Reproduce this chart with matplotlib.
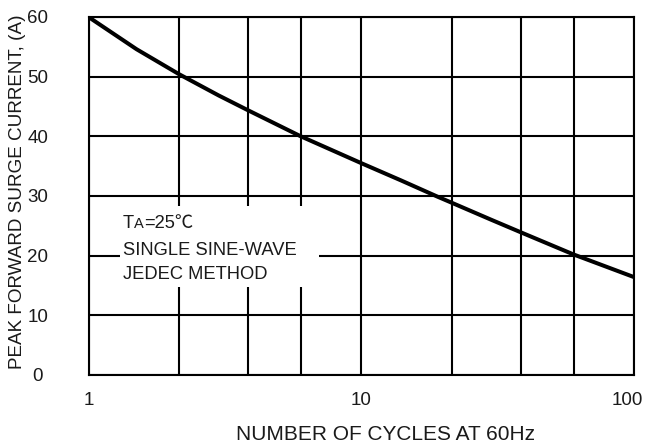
import matplotlib
matplotlib.use('Agg')
import matplotlib.pyplot as plt
from matplotlib.patches import Rectangle
from matplotlib.offsetbox import TextArea, HPacker, AnnotationBbox
from matplotlib.transforms import ScaledTranslation
from matplotlib.ticker import NullFormatter

plt.rcParams['font.family'] = ['Liberation Sans', 'Noto Sans CJK SC', 'DejaVu Sans']

# data
cycles = [1, 1.5, 2.15, 3.0, 3.85, 6, 10, 14, 19, 21.5, 30, 38.5, 60, 100]
current = [60, 54.6, 50.4, 46.85, 44.35, 40.0, 35.5, 32.6, 29.9, 28.85, 26.0, 23.9, 20.2, 16.4]

x_major = [1, 10, 100]
x_grid = [2.15, 3.85, 6, 21.5, 38.5, 60]
y_ticks = [0, 10, 20, 30, 40, 50, 60]

txt = '#1a1a1a'

fig = plt.figure(figsize=(6.46, 4.46), dpi=100)
ax = fig.add_axes([0.137, 0.1592, 0.8446, 0.8027])

ax.set_xscale('log')
ax.set_xlim(1, 100)
ax.set_ylim(0, 60)
ax.set_xticks(x_major)
ax.set_xticklabels([str(v) for v in x_major])
ax.set_xticks(x_grid, minor=True)
ax.xaxis.set_minor_formatter(NullFormatter())
ax.set_yticks(y_ticks)

ax.grid(True, which='both', color='black', linewidth=1.5)
for s in ax.spines.values():
    s.set_linewidth(1.5)
    s.set_color('black')

ax.tick_params(which='both', length=0)
ax.tick_params(axis='x', pad=12.2, labelsize=13.5, labelcolor=txt)
ax.tick_params(axis='y', pad=36.5, labelsize=13.5, labelcolor=txt)
for lab in ax.get_yticklabels():
    lab.set_ha('center')
last = ax.get_xticklabels()[-1]
last.set_transform(last.get_transform() + ScaledTranslation(-0.065, 0, fig.dpi_scale_trans))

ax.plot(cycles, current, color='black', linewidth=2.9, zorder=4,
        solid_capstyle='butt', solid_joinstyle='round')

# white box behind the note
ax.add_patch(Rectangle((0.0577, 0.246), 0.365, 0.226, transform=ax.transAxes,
                       facecolor='white', edgecolor='none', zorder=3))

fs = 13.2
t1 = TextArea('T', textprops=dict(fontsize=fs, color=txt))
t2 = TextArea('A', textprops=dict(fontsize=10.5, color=txt))
t3 = TextArea('=25℃', textprops=dict(fontsize=fs, color=txt))
box = HPacker(children=[t1, t2, t3], align='baseline', pad=0, sep=0)
ab = AnnotationBbox(box, (0.063, 0.4226), xycoords='axes fraction',
                    box_alignment=(0, 0.5), frameon=False, pad=0, zorder=5)
ax.add_artist(ab)
ax.text(0.063, 0.348, 'SINGLE SINE-WAVE', transform=ax.transAxes, fontsize=fs,
        color=txt, ha='left', va='center', zorder=5)
ax.text(0.063, 0.282, 'JEDEC METHOD', transform=ax.transAxes, fontsize=fs,
        color=txt, ha='left', va='center', zorder=5)

ax.set_xlabel('NUMBER OF CYCLES AT 60Hz', fontsize=15, color=txt, va='center')
ax.xaxis.set_label_coords(0.5445, -0.1676)
ax.set_ylabel('PEAK FORWARD SURGE CURRENT, (A)', fontsize=13.6, color=txt,
              va='center')
ax.yaxis.set_label_coords(-0.131, 0.511)

fig.savefig('out.png', dpi=100)
